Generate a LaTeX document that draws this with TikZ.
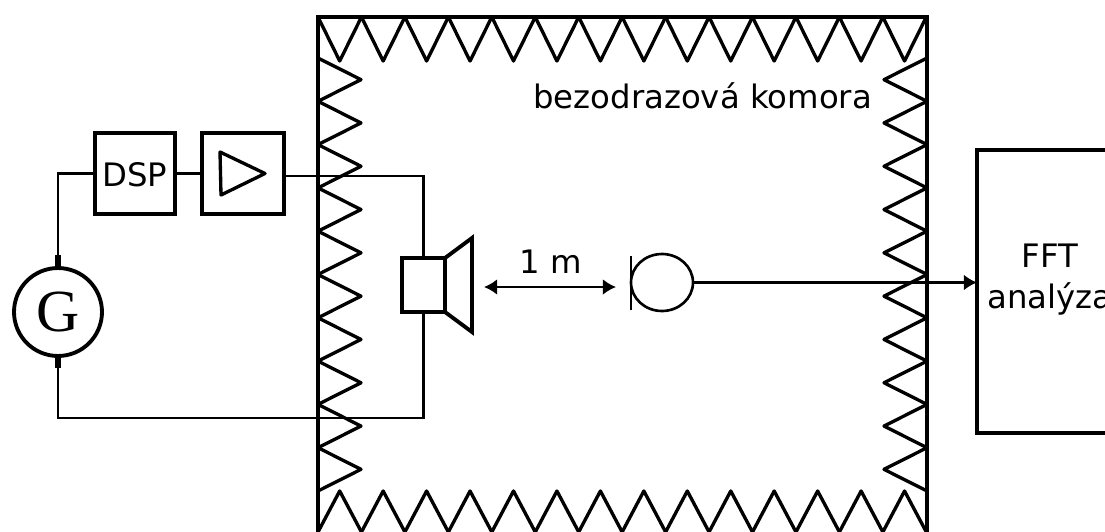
\documentclass[tikz,border=0pt]{standalone}
\usepackage{fontspec}
\setmainfont{DejaVu Sans}
\newfontfamily\genfont{Liberation Serif}
\usetikzlibrary{shapes.geometric}
\usetikzlibrary{arrows.meta}
\tikzset{
  block/.style={draw, line width=2.2pt, outer sep=0pt, inner sep=0pt, font=\fontsize{18.4}{23}\selectfont},
  wire/.style={line width=1.2pt},
  stub/.style={line width=3pt},
  wall/.style={line width=2.6pt},
  spikeline/.style={line width=1.9pt, line join=round},
  caption/.style={inner sep=0pt, font=\fontsize{18.4}{23}\selectfont}
}
\newcommand{\spike}[6]{ \draw[spikeline] ( #1 , #2 ) -- ( #3 , #4 ) -- ( #5 , #6 );}

\begin{document}
\begin{tikzpicture}[x=0.02cm,y=-0.02cm]
\clip (0,0) rectangle (1105,531);
% chamber walls
\draw[wall] (318,540) -- (318,17) -- (927,17) -- (927,540);
% top and bottom absorbers
\foreach \i in {0,...,13} {
  \pgfmathsetmacro{\xa}{318+43.45*\i}
  \pgfmathsetmacro{\xb}{\xa+21.7}
  \pgfmathsetmacro{\xc}{\xa+43.45}
  \spike{\xa}{17}{\xb}{61}{\xc}{17}
  \spike{\xa}{532}{\xb}{491}{\xc}{532}
}
% left and right absorbers
\foreach \i in {0,...,9} {
  \pgfmathsetmacro{\ya}{58+43.3*\i}
  \pgfmathsetmacro{\yb}{\ya+21.65}
  \pgfmathsetmacro{\yc}{\ya+43.3}
  \spike{318}{\ya}{361}{\yb}{318}{\yc}
  \spike{927}{\ya}{884}{\yb}{927}{\yc}
}
% blocks
\node[block, minimum width=1.6cm, minimum height=1.62cm] (dsp) at (135,173.5) {};
\node[block, minimum width=1.64cm, minimum height=1.62cm] (amp) at (243,173.5) {};
\node[block, circle, minimum size=1.76cm, font=\genfont\fontsize{34}{34}\selectfont] (gen) at (58,312) {G};
\node[block, minimum width=0.86cm, minimum height=1.08cm] (spk) at (423.5,285) {};
\node[draw, ellipse, line width=1.5pt, outer sep=0pt, minimum width=1.24cm, minimum height=1.14cm] (mic) at (662,282.5) {};
\node[block, minimum width=2.96cm, minimum height=5.66cm] (fft) at (1051,291.5) {};
% amplifier, speaker cone and mic bar
\draw[spikeline] (220,152) -- (265,173.5) -- (221,195) -- cycle;
\draw[block] (spk.north east) -- (472,238) -- (472,332) -- (spk.south east);
\draw[line width=1.5pt] (631,256) -- (631,310);
% wiring
\coordinate (topbend) at (423.5,176);
\coordinate (botbend) at (423.5,418);
\coordinate (genout) at (58,255);
\coordinate (genret) at (58,368);
\draw[wire] (dsp.west) -| (genout);
\draw[wire] (dsp.east) -- (amp.west);
\draw[wire] (amp.east |- topbend) -- (topbend) -- (spk.north);
\draw[wire] (genret) |- (botbend) -- (spk.south);
\draw[stub] (gen.north) -- (genout);
\draw[stub] (gen.south) -- (genret);
\draw[wire, -{Latex[length=7.5pt,width=9pt]}] (mic.east) -- (fft.west |- mic.east);
% distance
\coordinate (distl) at (484,287);
\coordinate (distr) at (616,287);
\draw[wire, {Latex[length=7.5pt,width=9pt]}-{Latex[length=7.5pt,width=9pt]}] (distl) -- (distr);
% labels
\node[caption, anchor=base] (dsplabel) at (135,186) {DSP};
\node[caption, anchor=base] (dist) at (551,273) {1 m};
\node[caption, anchor=base west] (room) at (533,108) {bezodrazová komora};
\node[caption, anchor=base] (ffttop) at (1050,267.5) {FFT};
\node[caption, anchor=base west] (fftbot) at (987,308) {analýza};
\end{tikzpicture}
\end{document}
